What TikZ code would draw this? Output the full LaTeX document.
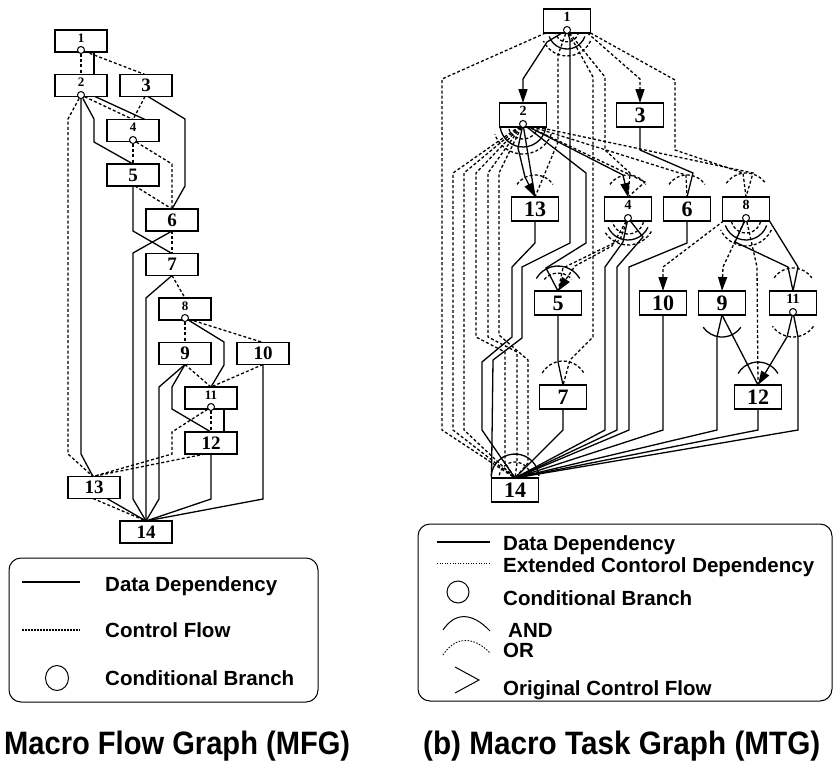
\documentclass[tikz,border=0pt]{standalone}
\usepackage{fontspec}
\setmainfont{Liberation Serif}
\newfontfamily\lsans{Liberation Sans}
\usetikzlibrary{arrows.meta}
\pgfdeclarelayer{bg}
\pgfsetlayers{bg,main}
\newcommand\mtgarc[6]{\draw[#1] (#2,#3) ++(#5:#4) arc[start angle=#5,end angle=#6,radius=#4];}
\begin{document}
\begin{tikzpicture}[x=1pt,y=-1pt,
 fbox/.style={draw,line width=1.4pt,fill=white,minimum width=52pt,minimum height=22pt,inner sep=0pt,outer sep=0pt,font=\bfseries\fontsize{19}{19}\selectfont},
 tbox/.style={draw,line width=1.4pt,fill=white,minimum width=47pt,minimum height=24pt,inner sep=0pt,outer sep=0pt,font=\bfseries\fontsize{22}{22}\selectfont},
 fsl/.style={font=\bfseries\fontsize{13}{13}\selectfont,anchor=base,inner sep=0pt},
 tsl/.style={font=\bfseries\fontsize{14}{14}\selectfont,anchor=base,inner sep=0pt},
 cb/.style={circle,draw,line width=1pt,fill=white,minimum size=7pt,inner sep=0pt},
 sl/.style={line width=1.3pt},
 dl/.style={line width=1.3pt,dash pattern=on 3pt off 2.2pt},
 ah/.style={-{Triangle[length=14pt,width=9pt]}},
 leg/.style={font=\lsans\bfseries\fontsize{20.5}{21}\selectfont,anchor=base west,inner sep=0pt},
 captxt/.style={font=\lsans\bfseries\fontsize{30}{30}\selectfont,anchor=base west,inner sep=0pt},
]
\useasboundingbox (0,0) rectangle (833,766);

% ================= MFG =================
\node[fbox] (a1) at (81,41) {};
\node[fsl] (a1t) at (81,42) {1};
\node[fbox] (a2) at (81,85.5) {};
\node[fsl] (a2t) at (81,86.5) {2};
\node[fbox] (a3) at (146,85.5) {3};
\node[fbox] (a4) at (133,130.5) {};
\node[fsl] (a4t) at (133,131.5) {4};
\node[fbox] (a5) at (133,175) {5};
\node[fbox] (a6) at (172,220) {6};
\node[fbox] (a7) at (172,264.5) {7};
\node[fbox] (a8) at (185,309) {};
\node[fsl] (a8t) at (185,310) {8};
\node[fbox] (a9) at (185,353.5) {9};
\node[fbox] (a10) at (263,353.5) {10};
\node[fbox] (a11) at (211,398) {};
\node[fsl] (a11t) at (211,399) {11};
\node[fbox] (a12) at (211,443) {12};
\node[fbox] (a13) at (94,487.5) {13};
\node[fbox] (a14) at (146,532) {14};
\node[cb] (ac1) at (81,50) {};
\node[cb] (ac2) at (81,95) {};
\node[cb] (ac4) at (133,140) {};
\node[cb] (ac8) at (185,318) {};
\node[cb] (ac11) at (211,407) {};

% ================= MTG =================
\node[tbox] (b1) at (567,21) {};
\node[tsl] (b1t) at (567,21.5) {1};
\node[tbox] (b2) at (523,115) {};
\node[tsl] (b2t) at (523,115.5) {2};
\node[tbox] (b3) at (640,115) {3};
\node[tbox] (b13) at (535,209) {13};
\node[tbox] (b4) at (628,209) {};
\node[tsl] (b4t) at (628,209.5) {4};
\node[tbox] (b6) at (687,209) {6};
\node[tbox] (b8) at (746,209) {};
\node[tsl] (b8t) at (746,209.5) {8};
\node[tbox] (b5) at (558,303) {5};
\node[tbox] (b10) at (663,303) {10};
\node[tbox] (b9) at (722,303) {9};
\node[tbox] (b11) at (793,303) {};
\node[tsl] (b11t) at (793,303.5) {11};
\node[tbox] (b7) at (563,397) {7};
\node[tbox] (b12) at (758,397) {12};
\node[tbox] (b14) at (515,490) {14};
\node[cb] (bc1) at (567,30) {};
\node[cb] (bc2) at (523,124) {};
\node[cb] (bc4) at (628,218) {};
\node[cb] (bc8) at (746,218) {};
\node[cb] (bc11) at (793,312) {};

\begin{pgfonlayer}{bg}
% ---- MFG data dependencies
\draw[sl] ([xshift=13pt]a1.south) -- ([xshift=13pt]a2.north);
\draw[sl] (ac2) -- (81,454) -- ([xshift=-1pt]a13.north);
\draw[sl] (ac2) -- (94,119) -- (94,142) -- (a5.north);
\draw[sl] ([xshift=14pt]a2.south) -- ([xshift=12pt]a4.north);
\draw[sl] ([xshift=2pt]a3.south) -- (185,119) -- (185,186) -- (a6.north);
\draw[sl] (a5.south) -- (133,231) -- (a7.north);
\draw[sl] (a6.south) -- (133,253) -- (133,499) -- (a14.north);
\draw[sl] (a7.south) -- (146,298) -- (a14.north);
\draw[sl] (ac8) -- (224,342) -- (224,365) -- (a11.north);
\draw[sl] (a9.south) -- (159,387) -- (159,499) -- (a14.north);
\draw[sl] (a9.south) -- (172,387) -- (172,409) -- (a12.north);
\draw[sl] (a10.south) -- (263,499) -- (a14.north);
\draw[sl] ([xshift=13pt]a11.south) -- ([xshift=13pt]a12.north);
\draw[sl] (a12.south) -- (211,499) -- (a14.north);
\draw[sl] ([xshift=13pt]a13.south) -- (a14.north);
% ---- MFG control flow
\draw[dl] (ac1) -- (a2.north);
\draw[dl] (ac1) -- ([xshift=-1pt]a3.north);
\draw[dl] (ac2) -- (68,119) -- (68,454) -- ([xshift=-1pt]a13.north);
\draw[dl] (ac2) -- (a4.north);
\draw[dl] ([xshift=-1pt]a3.south) -- (a4.north);
\draw[dl] (ac4) -- (a5.north);
\draw[dl] (ac4) -- (172,164) -- (a6.north);
\draw[dl] ([xshift=2pt]a5.south) -- (a6.north);
\draw[dl] (a6.south) -- (a7.north);
\draw[dl] (a7.south) -- (a8.north);
\draw[dl] (ac8) -- (a9.north);
\draw[dl] (ac8) -- (a10.north);
\draw[dl] (a9.south) -- (a11.north);
\draw[dl] (a10.south) -- (a11.north);
\draw[dl] (ac11) -- (a12.north);
\draw[dl] (ac11) -- (172,432) -- (172,454) -- ([xshift=-1pt]a13.north);
\draw[dl] ([xshift=-6pt]a12.south) -- ([xshift=-1pt]a13.north);
\draw[dl] ([xshift=-1pt]a13.south) -- (a14.north);

% ---- MTG from 1
\draw[sl,ah] (bc1) -- (547,42) -- (523,79) -- (b2.north);
\draw[sl] (bc1) -- (570,40) -- (570,243) -- (522,267) -- (522,338) -- (493,360) -- (b14.north west);
\draw[dl] ([xshift=2pt]b1.south west) -- (442,79) -- (442,430) -- (b14.north);
\draw[dl] (bc1) -- (558,55) -- (558,142) -- (b13.north);
\draw[dl] (bc1) -- (593,77) -- (593,337) -- (570,360) -- (b7.north);
\draw[dl] (bc1) -- (605,77) -- (605,150) -- (630,173) -- (b4.north);
\draw[dl,ah] ([xshift=-3pt]b1.south east) -- (640,79) -- (b3.north);
\draw[dl] (b1.south east) -- (675,80) -- (675,150) -- (743,173) -- (b8.north);
% ---- MTG from 2
\foreach \x in {453,464} \draw[dl] (bc2) -- (\x,173) -- (\x,430) -- (b14.north);
\draw[dl] (bc2) -- (476,173) -- (476,337) -- (505,352) -- (505,463) -- (b14.north);
\draw[dl] (bc2) -- (488,173) -- (488,337) -- (517,352) -- (517,463) -- (b14.north);
\draw[dl] (bc2) -- (499,173) -- (499,335) -- (528,360) -- (528,463) -- (b14.north);
\draw[sl,ah] (bc2) -- (518,148) -- (525,177) -- (b13.north);
\draw[sl] (bc2) -- (b13.north);
\draw[sl] (bc2) -- (586,173) -- (586,243) -- (546,268) -- (b5.north);
\draw[sl,ah] (bc2) -- (623,175) -- (b4.north);
\draw[dl] (bc2) -- (645,182) -- (b4.north);
\draw[dl] (bc2) -- (686,175) -- (b6.north);
\draw[dl] (bc2) -- (753,173) -- (b8.north);
% ---- MTG others
\draw[sl] (b3.south) -- (640,150) -- (693,173) -- (b6.north);
\draw[sl] (b13.south) -- (535,243) -- (512,267) -- (512,337) -- (482,362) -- (482,430) -- (b14.north);
\draw[sl] (bc4) -- (623,242) -- (605,267) -- (605,430) -- (b14.north);
\draw[sl] (bc4) -- (643,237) -- (617,267) -- (617,430) -- (b14.north);
\draw[dl,ah] (bc4) -- (612,246) -- (575,266) -- (b5.north);
\draw[dl] (bc4) -- (620,240) -- (563,268) -- (b5.north);
\draw[sl] (b6.south) -- (687,243) -- (629,267) -- (629,430) -- (b14.north);
\draw[sl] (b5.south) -- (558,362) -- (b7.north);
\draw[sl] (b7.south) -- (563,430) -- (b14.north);
\draw[dl,ah] ([xshift=1pt]b8.south west) -- (663,267) -- (b10.north);
\draw[dl,ah] (bc8) -- (723,267) -- (b9.north);
\draw[dl] (bc8) -- (757,267) -- (b12.north);
\draw[sl] (bc8) -- (735,242) -- (788,267) -- (b11.north);
\draw[sl] (b8.south east) -- (798,267) -- (b11.north);
\draw[sl] (b9.south) -- (b12.north);
\draw[sl] (b9.south) -- (717,337) -- (717,430) -- (b14.north);
\draw[sl] (b10.south) -- (663,430) -- (b14.north);
\draw[sl,ah] (bc11) -- (787,337) -- (b12.north);
\draw[sl] (bc11) -- (798,337) -- (798,430) -- (b14.north);
\draw[sl] (b12.south) -- (758,430) -- (b14.north);

% ---- AND / OR arcs
\mtgarc{sl}{567}{30}{19}{20}{160}
\mtgarc{dl}{567}{30}{12}{10}{170}
\mtgarc{dl}{567}{30}{26}{25}{155}
\mtgarc{sl}{523}{124}{23}{10}{170}
\mtgarc{dl}{523}{124}{15}{10}{170}
\mtgarc{dl}{523}{124}{30}{20}{160}
\mtgarc{sl}{628}{218}{22}{25}{155}
\mtgarc{dl}{628}{218}{16}{15}{165}
\mtgarc{dl}{628}{218}{27}{30}{150}
\mtgarc{sl}{746}{218}{22}{20}{160}
\mtgarc{dl}{746}{218}{15}{15}{165}
\mtgarc{dl}{746}{218}{28}{25}{155}
\mtgarc{sl}{722}{314}{23}{35}{145}
\mtgarc{dl}{793}{312}{25}{35}{145}
\mtgarc{dl}{793}{291}{23}{215}{325}
\mtgarc{sl}{758}{385}{23}{210}{330}
\mtgarc{dl}{535}{197}{22}{215}{325}
\mtgarc{dl}{628}{197}{22}{215}{325}
\mtgarc{dl}{687}{197}{22}{215}{325}
\mtgarc{dl}{746}{197}{24}{215}{325}
\mtgarc{sl}{558}{291}{25}{210}{330}
\mtgarc{dl}{558}{291}{18}{220}{320}
\mtgarc{dl}{563}{385}{24}{210}{330}
\mtgarc{sl}{515}{478}{24}{185}{355}
\mtgarc{dl}{515}{478}{16}{190}{350}
\end{pgfonlayer}

% ================= legends =================
\draw[line width=1pt,rounded corners=12pt] (9,558) rectangle (318,702);
\draw[line width=1.2pt] (22,582) -- (80,582);
\node[leg] (l1) at (105,591) {Data Dependency};
\draw[line width=1.6pt,dash pattern=on 1.6pt off 1.4pt] (22,630) -- (80,630);
\node[leg] (l2) at (105,637) {Control Flow};
\draw[line width=1pt] (57,678) ellipse [x radius=11.5pt,y radius=12.5pt];
\node[leg] (l3) at (105,685) {Conditional Branch};

\draw[line width=1pt,rounded corners=12pt] (418,524) rectangle (832,701);
\draw[line width=1.2pt] (437,542) -- (490,542);
\node[leg] (r1) at (503,550) {Data Dependency};
\draw[line width=0.8pt,dash pattern=on 1pt off 1.6pt] (437,563) -- (490,563);
\node[leg] (r2) at (503,572) {Extended Contorol Dependency};
\draw[line width=1pt] (458,592) circle [radius=11pt];
\node[leg] (r3) at (503,605) {Conditional Branch};
\draw[line width=1pt] (443,630) .. controls (455,612) and (472,612) .. (490,631);
\node[leg] (r4) at (508,637) {AND};
\draw[line width=0.9pt,dash pattern=on 1.5pt off 1.5pt] (443,655) .. controls (455,636) and (474,636) .. (490,653);
\node[leg] (r5) at (503,657) {OR};
\draw[line width=1pt] (455,667) -- (479,680) -- (455,693);
\node[leg] (r6) at (503,695) {Original Control Flow};

\node[captxt] (capa) at (4,754) {\scalebox{0.97}[1.08]{Macro Flow Graph (MFG)}};
\node[captxt] (capb) at (423,754) {\scalebox{0.99}[1.08]{(b) Macro Task Graph (MTG)}};
\end{tikzpicture}
\end{document}
